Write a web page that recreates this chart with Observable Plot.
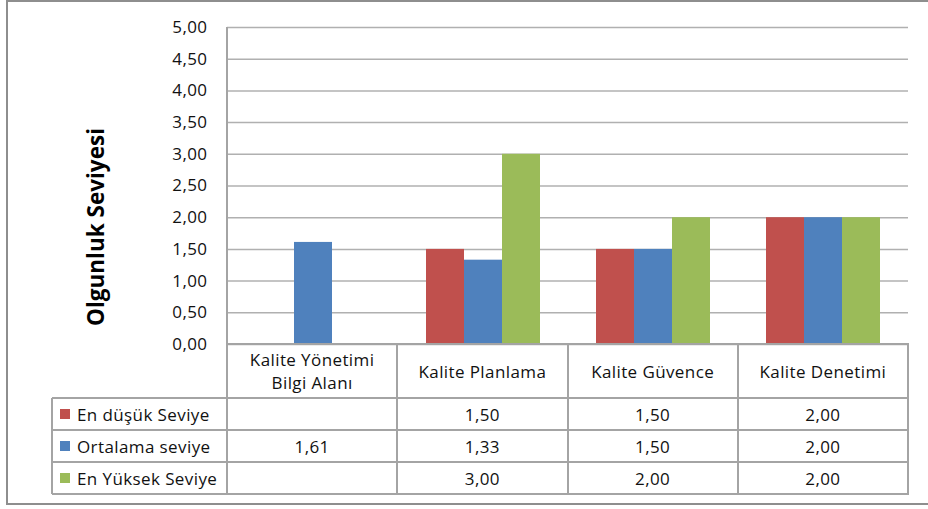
<!DOCTYPE html>
<html>
<head>
<meta charset="utf-8">
<script src="https://cdn.jsdelivr.net/npm/d3@7"></script>
<script src="https://cdn.jsdelivr.net/npm/@observablehq/plot@0.6"></script>
<style>
  html, body { margin: 0; padding: 0; background: #fff; overflow: hidden; }
  #chart { position: relative; width: 928px; height: 509px; font-family: "Open Sans", sans-serif; color: #111; }
  #frame { position: absolute; left: 6px; top: 0; width: 940px; height: 505px; border: 2px solid #8e8e8e; box-sizing: border-box; }
  .layer { position: absolute; left: 0; top: 0; overflow: visible; }
  .line { position: absolute; background: #a4a4a4; }
  .cell { position: absolute; display: flex; align-items: center; justify-content: center; text-align: center; font-size: 17px; letter-spacing: 0.4px; line-height: 23px; white-space: pre-line; }
  .legend { justify-content: flex-start; padding-left: 8px; box-sizing: border-box; }
  .swatch { display: inline-block; width: 10px; height: 10px; margin-right: 7px; }
  #ytitle { position: absolute; left: 95px; top: 227px; transform: translate(-50%, -50%) rotate(-90deg); font-weight: bold; font-size: 22.5px; white-space: nowrap; color: #000; }
</style>
</head>
<body>
<div id="chart">
  <div id="frame"></div>
  <div id="ytitle">Olgunluk Seviyesi</div>
</div>
<script>
// Bilgi alanları (kategoriler) ve seriler
const categories = ["Kalite Yönetimi\nBilgi Alanı", "Kalite Planlama", "Kalite Güvence", "Kalite Denetimi"];
const series = ["En düşük Seviye", "Ortalama seviye", "En Yüksek Seviye"];
const enDusuk = [null, 1.50, 1.50, 2.00];
const ortalama = [1.61, 1.33, 1.50, 2.00];
const enYuksek = [null, 3.00, 2.00, 2.00];
const colors = ["#C0504D", "#4F81BD", "#9BBB59"];
const yTicks = [0, 0.5, 1, 1.5, 2, 2.5, 3, 3.5, 4, 4.5, 5];

const values = [enDusuk, ortalama, enYuksek];
const fmt = d => d3.format(".2f")(d).replace(".", ",");
const rows = categories.flatMap((c, i) =>
  series.map((s, j) => ({category: c, series: s, value: values[j][i]}))
).filter(d => d.value != null);

const W = 928, H = 365;
const M = {left: 227, right: 20, top: 27, bottom: 21};
const chart = document.getElementById("chart");

// Eksen ve ızgara katmanı
const axes = Plot.plot({
  width: W, height: H,
  marginLeft: M.left, marginRight: M.right, marginTop: M.top, marginBottom: M.bottom,
  style: {fontFamily: "'Open Sans', sans-serif", fontSize: "17px", letterSpacing: "0.4px", color: "#111", background: "transparent", overflow: "visible"},
  x: {domain: categories, axis: null},
  y: {domain: [0, 5], ticks: yTicks, tickFormat: fmt, tickSize: 0, tickPadding: 20, label: null},
  marks: [
    Plot.ruleY(yTicks, {stroke: "#b0b0b0", strokeWidth: 1.5})
  ]
});
axes.classList.add("layer");
chart.appendChild(axes);

// Gruplanmış sütunlar
const bars = Plot.plot({
  width: W, height: H,
  marginLeft: M.left, marginRight: M.right, marginTop: M.top, marginBottom: M.bottom,
  style: {background: "transparent"},
  fx: {domain: categories, paddingInner: 0.33, paddingOuter: 0.165, axis: null, label: null},
  x: {domain: series, padding: 0, axis: null},
  y: {domain: [0, 5], axis: null},
  color: {domain: series, range: colors},
  marks: [
    Plot.barY(rows, {fx: "category", x: "series", y: "value", fill: "series"})
  ]
});
bars.classList.add("layer");
chart.appendChild(bars);

// Veri tablosu
const y0 = H - M.bottom;
const x0 = M.left, x1 = W - M.right;
const colW = (x1 - x0) / categories.length;
const legendLeft = 52;
const rowTops = [y0, y0 + 54, y0 + 86, y0 + 118, y0 + 150];
const colX = categories.map((_, i) => x0 + i * colW).concat([x1]);

function line(l, t, w, h) {
  const d = document.createElement("div");
  d.className = "line";
  Object.assign(d.style, {left: l + "px", top: t + "px", width: w + "px", height: h + "px"});
  chart.appendChild(d);
}
function cell(l, t, w, h, html, cls) {
  const d = document.createElement("div");
  d.className = "cell" + (cls ? " " + cls : "");
  Object.assign(d.style, {left: l + "px", top: t + "px", width: w + "px", height: h + "px"});
  d.innerHTML = html;
  chart.appendChild(d);
  return d;
}

// Dikey eksen çizgisi
line(x0 - 1, M.top, 2, y0 - M.top);
// Yatay çizgiler
line(x0, rowTops[0] - 1, x1 - x0 + 1, 2);
for (let r = 1; r < rowTops.length; r++) line(legendLeft, rowTops[r] - 1, x1 - legendLeft + 1, 2);
// Dikey çizgiler
line(legendLeft - 1, rowTops[1], 2, rowTops[4] - rowTops[1]);
colX.forEach(x => line(x - 1, rowTops[0], 2, rowTops[4] - rowTops[0] + 1));

// Başlık satırı
categories.forEach((c, i) => {
  const d = cell(colX[i], rowTops[0], colW, rowTops[1] - rowTops[0], "");
  d.textContent = c;
});
// Seri satırları
series.forEach((s, j) => {
  const t = rowTops[j + 1], h = rowTops[j + 2] - t;
  cell(legendLeft, t, x0 - legendLeft, h,
    `<span class="swatch" style="background:${colors[j]}"></span>${s}`, "legend");
  categories.forEach((c, i) => {
    const v = values[j][i];
    cell(colX[i], t, colW, h, v == null ? "" : fmt(v));
  });
});
</script>
</body>
</html>
